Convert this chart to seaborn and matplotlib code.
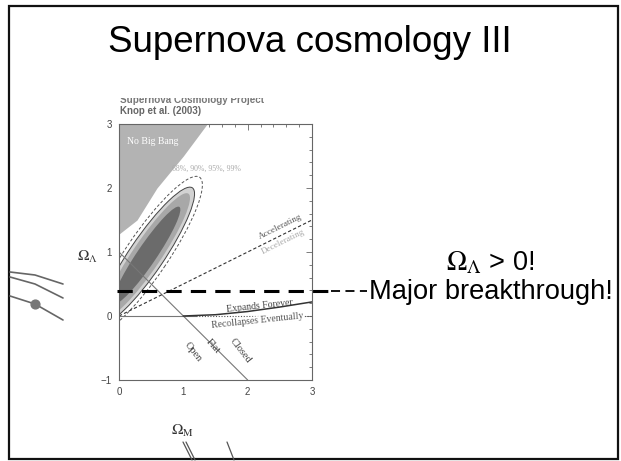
import numpy as np
import pandas as pd
import matplotlib
matplotlib.use("Agg")
import matplotlib.pyplot as plt
import seaborn as sns
from matplotlib.patches import Ellipse, Rectangle

sns.set_style("white")
plt.rcParams["font.family"] = ["Liberation Sans", "DejaVu Sans"]
plt.rcParams["mathtext.fontset"] = "stix"

## Data
# "No Big Bang" boundary (Omega_M, Omega_Lambda)
nbb_om = [0.0, 0.28, 0.59, 1.0, 1.37]
nbb_ol = [1.28, 1.5, 2.0, 2.5, 3.0]

# confidence contours 68/90/95/99 (centre, semi axes, tilt)
cl_center = (0.43, 0.95)
cl_angle = 56
cl_a = [0.91, 1.16, 1.27, 1.47]
cl_b = [0.15, 0.22, 0.27, 0.33]

# reference lines
flat_om = [0.0, 2.0]
flat_ol = [1.0, -1.0]
accel_om = [0.0, 3.0]
accel_ol = [0.0, 1.5]
zero_om = [0.0, 1.2]
zero_ol = [0.0, 0.0]
expand_om = [1.0, 1.5, 2.0, 2.5, 3.0]
expand_ol = [0.0, 0.02, 0.07, 0.14, 0.22]
recoll_om = [1.2, 3.0]
recoll_ol = [0.0, 0.0]

# the "breakthrough" level
omega_lambda_mark = 0.39

# slide decorations (pixels)
deco_curves = [
    ([10, 35, 63], [272, 275, 284]),
    ([10, 35, 63], [277, 284, 298]),
    ([10, 35, 63], [296, 304, 320]),
]
deco_dot = (35, 304)
deco_lines = [([183, 192], [442, 460]), ([186, 195], [442, 460]), ([227, 234], [442, 460])]

W, H = 621, 461
fig = plt.figure(figsize=(6.21, 4.61), dpi=100)

## overlay for the slide
over = fig.add_axes([0, 0, 1, 1], zorder=0)
over.set_xlim(0, W)
over.set_ylim(H, 0)
over.axis("off")
over.add_patch(Rectangle((9, 6), 609, 453, fill=False, lw=1.6, ec="#111111"))
for xs, ys in deco_curves:
    sns.lineplot(x=xs, y=ys, ax=over, color="#666666", lw=1.2, sort=False, estimator=None)
over.scatter([deco_dot[0]], [deco_dot[1]], s=40, color="#777777", zorder=3)
for xs, ys in deco_lines:
    sns.lineplot(x=xs, y=ys, ax=over, color="#555555", lw=0.9, sort=False, estimator=None)

over.text(310, 43, "Supernova cosmology III", ha="center", va="center", fontsize=26.5, color="black")
over.text(490, 263, r"$\Omega_\Lambda$ > 0!", ha="center", va="center", fontsize=19.5, color="black")
over.text(369, 292, "Major breakthrough!", ha="left", va="center", fontsize=19.6, color="black")
over.text(120, 100, "Supernova Cosmology Project", ha="left", va="center", fontsize=7.1,
          color="#777777", fontweight="bold")
over.text(120, 111, "Knop et al. (2003)", ha="left", va="center", fontsize=7.0,
          color="#666666", fontweight="bold")
# the scanned figure is cut off at its top edge
over.add_patch(Rectangle((100, 88), 200, 10, fc="white", ec="none", zorder=4))

## the cosmology plot
ax = fig.add_axes([119 / W, 1 - 380 / H, (312 - 119) / W, (380 - 124) / H], zorder=1)
ax.set_xlim(0, 3)
ax.set_ylim(-1, 3)

serif = "Liberation Serif"
ax.fill_between(nbb_om, nbb_ol, 3, color="#b3b3b3", lw=0)
ax.text(0.12, 2.72, "No Big Bang", color="white", fontsize=7, family=serif, va="center")

fills = ["#6b6b6b", "#a8a8a8", "#d2d2d2", "none"]
for a, b, fc in zip(cl_a[::-1], cl_b[::-1], fills[::-1]):
    ax.add_patch(Ellipse(cl_center, 2 * a, 2 * b, angle=cl_angle, fc=fc, ec="none"))
ax.add_patch(Ellipse(cl_center, 2 * cl_a[2], 2 * cl_b[2], angle=cl_angle, fc="none", ec="#444444", lw=0.7))
ax.add_patch(Ellipse(cl_center, 2 * cl_a[3], 2 * cl_b[3], angle=cl_angle, fc="none", ec="#555555",
                     lw=0.7, ls=(0, (3, 2))))
ax.text(0.82, 2.3, "68%, 90%, 95%, 99%", color="#aaaaaa", fontsize=5.6, family=serif, va="center")

sns.lineplot(x=flat_om, y=flat_ol, ax=ax, color="#777777", lw=0.8)
sns.lineplot(x=accel_om, y=accel_ol, ax=ax, color="#333333", lw=0.8).lines[-1].set_dashes([3, 2])
sns.lineplot(x=zero_om, y=zero_ol, ax=ax, color="#777777", lw=0.8)
sns.lineplot(x=expand_om, y=expand_ol, ax=ax, color="#333333", lw=1.1)
sns.lineplot(x=recoll_om, y=recoll_ol, ax=ax, color="#555555", lw=0.8).lines[-1].set_dashes([1, 1.5])

ax.text(2.5, 1.4, "Accelerating", rotation=26.6, color="#555555", fontsize=6.6, family=serif,
        ha="center", va="center", rotation_mode="anchor")
ax.text(2.55, 1.16, "Decelerating", rotation=26.6, color="#aaaaaa", fontsize=6.6, family=serif,
        ha="center", va="center", rotation_mode="anchor")
ax.text(2.19, 0.15, "Expands Forever", rotation=6, color="#444444", fontsize=7, family=serif,
        ha="center", va="center", rotation_mode="anchor")
ax.text(2.16, -0.08, "Recollapses Eventually", rotation=6, color="#555555", fontsize=7, family=serif,
        ha="center", va="center", rotation_mode="anchor",
        bbox=dict(fc="white", ec="none", pad=0.3))
ax.text(1.15, -0.56, "Open", rotation=-52, color="#444444", fontsize=7.5, family=serif,
        ha="center", va="center", rotation_mode="anchor")
ax.text(1.46, -0.48, "Flat", rotation=-48, color="#444444", fontsize=7.5, family=serif,
        ha="center", va="center", rotation_mode="anchor")
ax.text(1.88, -0.55, "Closed", rotation=-52, color="#444444", fontsize=7.5, family=serif,
        ha="center", va="center", rotation_mode="anchor")

# the breakthrough level line, running out of the plot
ax.plot([-0.03, 3.3], [omega_lambda_mark] * 2, color="black", lw=2.2, ls=(0, (5, 3)), clip_on=False, zorder=5)
ax.plot([3.3, 3.86], [omega_lambda_mark] * 2, color="black", lw=1.3, ls=(0, (5, 3)), clip_on=False, zorder=5)

ax.set_xticks([0, 1, 2, 3])
ax.set_yticks([-1, 0, 1, 2, 3])
ax.set_yticklabels(["\u22121", "0", "1", "2", "3"])
ax.set_xticks(np.arange(0, 3.01, 0.2), minor=True)
ax.set_yticks(np.arange(-1, 3.01, 0.2), minor=True)
ax.tick_params(which="both", direction="in", top=True, right=True, color="#666666",
               labelsize=7, labelcolor="#444444", width=0.6)
ax.tick_params(which="major", length=4, pad=5)
ax.tick_params(which="minor", length=2)
for s in ax.spines.values():
    s.set_color("#666666")
    s.set_linewidth(0.8)
ax.set_xlabel(r"$\Omega_{\rm M}$", fontsize=11, color="#333333", va="center")
ax.set_ylabel(r"$\Omega_\Lambda$", fontsize=11, color="#333333", rotation=0, va="center", ha="center")
ax.xaxis.set_label_coords(0.33, -0.2)
ax.yaxis.set_label_coords(-0.165, 0.48)

fig.savefig("out.png", dpi=100)
